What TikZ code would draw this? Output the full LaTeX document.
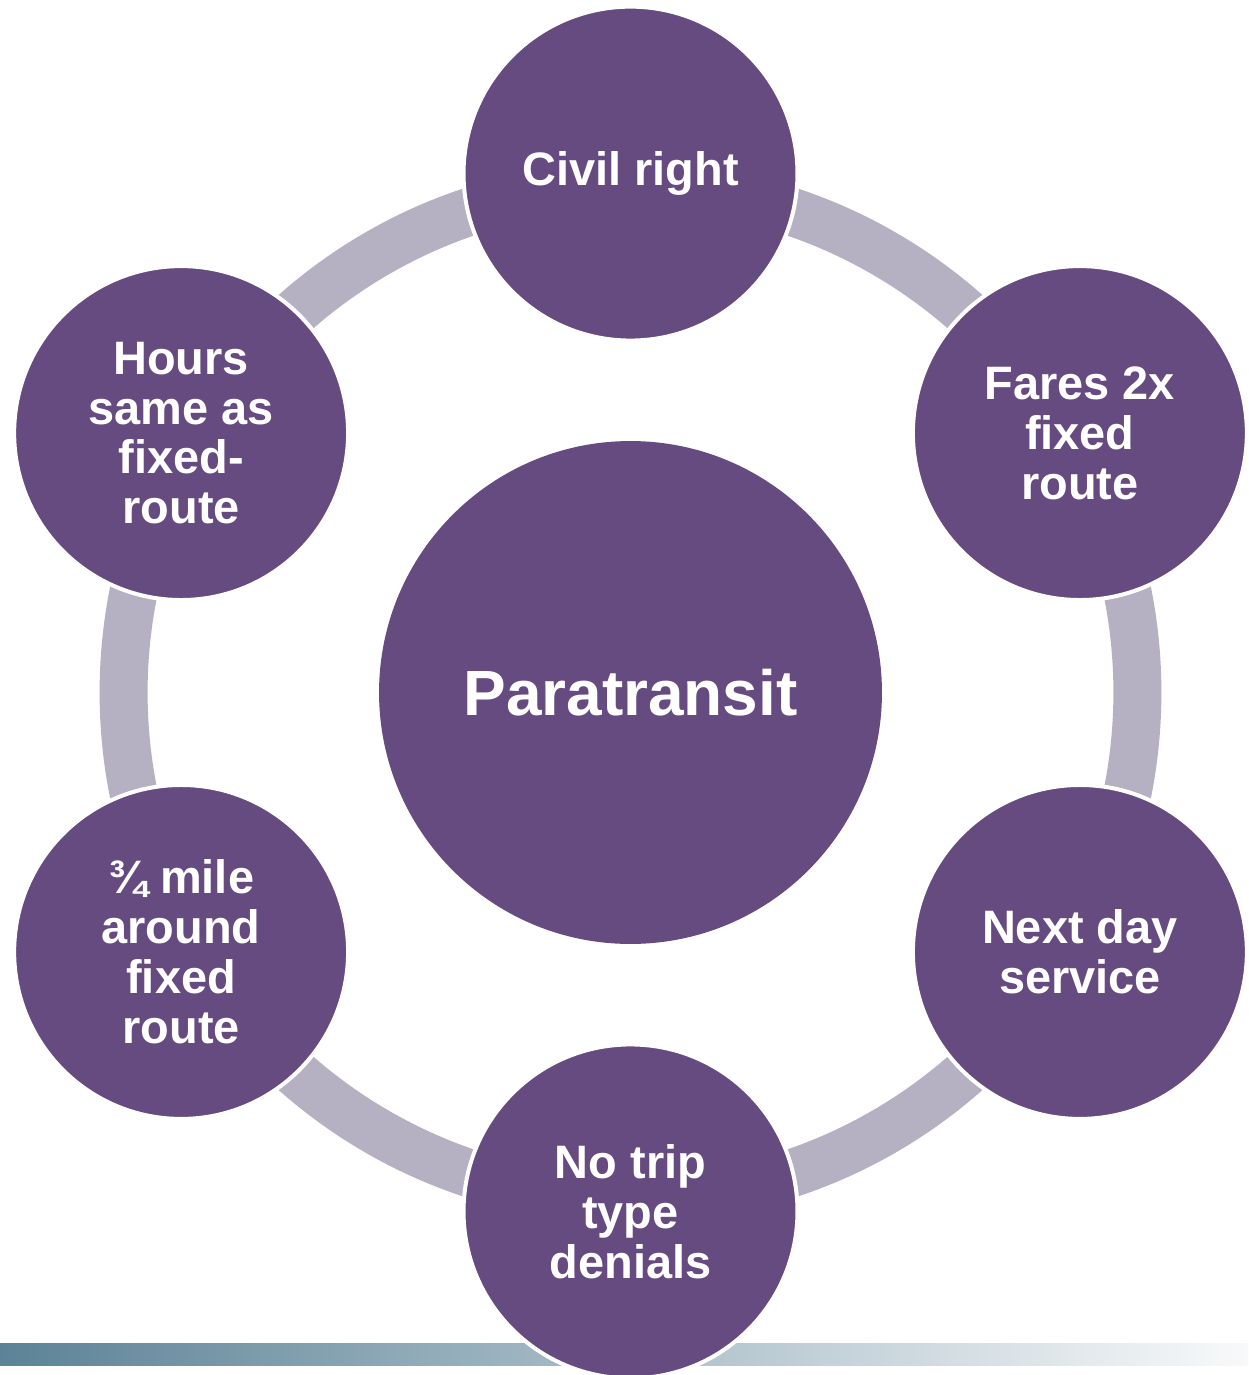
\documentclass[tikz,border=0pt]{standalone}
\usepackage{fontspec}
\setmainfont{Liberation Sans}
\usetikzlibrary{positioning,calc}
\definecolor{plum}{HTML}{664B80}
\definecolor{lilac}{HTML}{B6B0C3}
\definecolor{barteal}{HTML}{5C8397}
\definecolor{barwhite}{HTML}{F8F9FA}

\begin{document}
\begin{tikzpicture}[x=0.02cm,y=-0.02cm]
  \tikzstyle{hub}=[circle,fill=plum,minimum size=10.06cm,inner sep=0pt,align=center,text=white,font=\bfseries\fontsize{36.4}{40}\selectfont]
  \tikzstyle{petal}=[circle,fill=plum,draw=white,line width=0.08cm,minimum size=6.68cm,inner sep=0pt,align=center,text=white,font=\bfseries\fontsize{26.7}{28.4}\selectfont]
  \tikzstyle{ring}=[lilac,line width=0.96cm]
  \clip (0,0) rectangle (1248,1375);
  \fill[white] (0,0) rectangle (1248,1375);
  \shade[left color=barteal,right color=barwhite] (0,1343) rectangle (1248,1365);
  \node[hub] (para) at (630.5,692.5) {Paratransit};
  \draw[ring] (para.center) circle[radius=10.14cm];
  \node[petal] (civil) at ($(para)+(90:10.38cm)$) {Civil right};
  \node[petal] (fares) at ($(para)+(30:10.38cm)$) {Fares 2x\\fixed\\route};
  \node[petal] (nextday) at ($(para)+(-30:10.38cm)$) {Next day\\service};
  \node[petal] (notrip) at ($(para)+(-90:10.38cm)$) {No trip\\type\\denials};
  \node[petal] (mile) at ($(para)+(210:10.38cm)$) {¾ mile\\around\\fixed\\route};
  \node[petal] (hours) at ($(para)+(150:10.38cm)$) {Hours\\same as\\fixed-\\route};
\end{tikzpicture}
\end{document}
